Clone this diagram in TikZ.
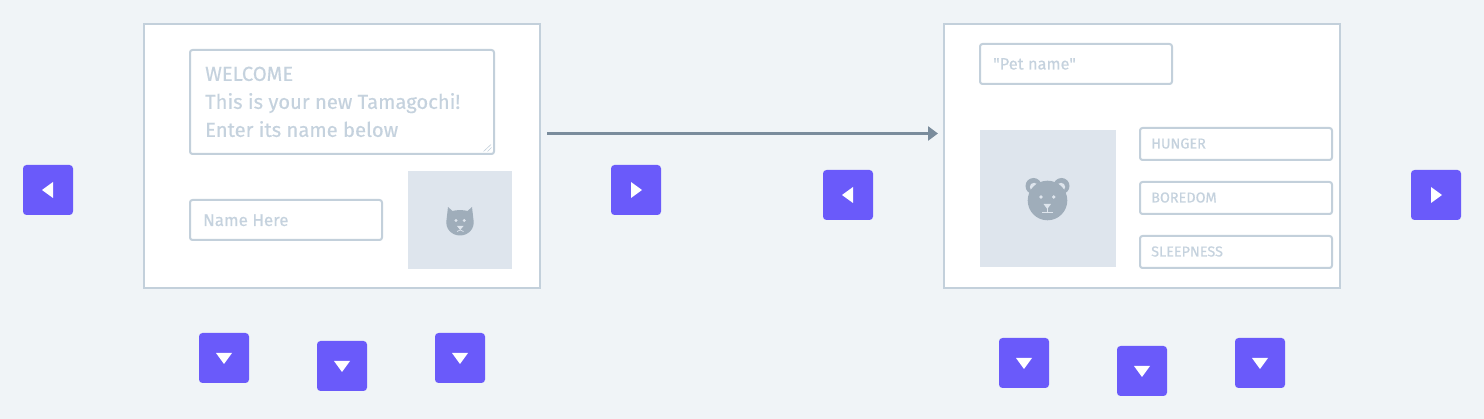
\documentclass[tikz,border=0pt]{standalone}
\usepackage{fontspec}
\setmainfont[FakeBold=0.35]{Fira Sans}
\newfontfamily\quotefont[FakeBold=0.35]{Fira Sans}
\usetikzlibrary{arrows.meta}
\definecolor{pagebg}{HTML}{F0F4F7}
\definecolor{framecol}{HTML}{C3D0DB}
\definecolor{hintcol}{HTML}{C5D2DE}
\definecolor{tilecol}{HTML}{DEE5ED}
\definecolor{petcol}{HTML}{9FADBA}
\definecolor{btncol}{HTML}{6A5AFA}
\definecolor{flowcol}{HTML}{7A8C9C}
\tikzset{%
  >={Triangle[length=10pt,width=14pt]}, % default arrow style
  screenbox/.style={draw=framecol,line width=2pt,fill=white,inner sep=0pt},
  fieldbox/.style={draw=framecol,line width=2pt,fill=white,rounded corners=2.5pt,inner sep=0pt},
  tilebox/.style={fill=tilecol,inner sep=0pt},
  hint/.style={text=hintcol,inner sep=0pt,anchor=base west},
  navbtn/.style={fill=btncol,rounded corners=3.5pt,inner sep=0pt,minimum size=50pt},
  flow/.style={->,draw=flowcol,line width=3.5pt}
}
\newcommand{\boxat}[6]{% style, name, x0, y0, x1, y1
  \node[#1,minimum width={(#5-#3)*1pt},minimum height={(#6-#4)*1pt}] (#2) at ({(#3+#5)/2},{(#4+#6)/2}) {};
}
\newcommand{\navbutton}[4]{% name, left, top, rotation
  \node[navbtn] (#1) at ({#2+25},{#3+25}) {};
  \fill[white,shift={(#1.center)},rotate=#4] (-5,-8) -- (-5,8) -- (6,0) -- cycle;
}
\begin{document}
\begin{tikzpicture}[x=1pt,y=-1pt]
  \useasboundingbox[fill=pagebg] (0,0) rectangle (1484,419);
  % left screen
  \boxat{screenbox}{welcomescreen}{144}{24}{540}{288}
  \boxat{fieldbox}{messagearea}{190}{50}{494}{154}
  \boxat{fieldbox}{namefield}{190}{200}{382}{240}
  \boxat{tilebox}{cattile}{408}{171}{512}{269}
  \node[hint,font=\fontsize{20.2}{28}\selectfont,align=left,anchor=north west] (messagetext) at (205,66.5)
    {WELCOME\\This is your new Tamagochi!\\Enter its name below};
  \node[hint,font=\fontsize{17}{20}\selectfont] (nametext) at (203,226) {Name Here};
  % resize grip
  \draw[framecol,line width=.6pt] (483.5,151.5) -- (491,144.5) (487.5,151.5) -- (491.5,147.5);
  % cat
  \fill[petcol] (448,207) -- (452.5,211) .. controls (456,209.8) and (464,209.8) .. (467.5,211)
    -- (472,207) -- (473.5,220) .. controls (475,229) and (468,235.5) .. (460,235.5)
    .. controls (452,235.5) and (445,229) .. (446.5,220) -- cycle;
  \fill[tilecol] (456,220.5) circle (1.6) (464.3,220.5) circle (1.6)
    (457,226) -- (463.5,226) -- (460.2,230) -- cycle;
  \draw[tilecol,line width=.7pt] (457,231.5) -- (460.2,230) -- (463.5,231.5);
  % flow
  \coordinate (flowstart) at (547,133.5);
  \coordinate (flowend) at (938,133.5);
  \draw[flow] (flowstart) -- (flowend);
  % right screen
  \boxat{screenbox}{statusscreen}{944}{24}{1340}{288}
  \boxat{fieldbox}{petfield}{980}{44}{1172}{84}
  \boxat{tilebox}{beartile}{980}{130}{1116}{267}
  \boxat{fieldbox}{hungerfield}{1140}{128}{1332}{160}
  \boxat{fieldbox}{boredomfield}{1140}{182}{1332}{214}
  \boxat{fieldbox}{sleepfield}{1140}{236}{1332}{268}
  \node[hint,font=\quotefont\fontsize{16.4}{20}\selectfont] (pettext) at (993,69.5) {"Pet name"};
  \node[hint,font=\fontsize{14.4}{16}\selectfont] (hungertext) at (1151,148.5) {HUNGER};
  \node[hint,font=\fontsize{14.4}{16}\selectfont] (boredomtext) at (1151,202.5) {BOREDOM};
  \node[hint,font=\fontsize{14.4}{16}\selectfont] (sleeptext) at (1151,256.5) {SLEEPNESS};
  % bear
  \fill[petcol] (1033.5,186) circle (8) (1061.5,186) circle (8);
  \fill[tilecol] (1034,187) circle (4.2) (1061,187) circle (4.2);
  \fill[petcol] (1047.5,200.5) circle (19.8);
  \fill[tilecol] (1041,197) circle (1.8) (1053.7,197) circle (1.8)
    (1043.5,204) -- (1051,204) -- (1047.3,209) -- cycle;
  \draw[tilecol,line width=1pt] (1047.3,208) -- (1047.3,212.3) (1042,212.3) -- (1052.5,212.3);
  % buttons
  \navbutton{backone}{23}{165}{180}
  \navbutton{nextone}{611}{165}{0}
  \navbutton{backtwo}{823}{170}{180}
  \navbutton{nexttwo}{1411}{170}{0}
  \navbutton{downa}{199}{333}{270}
  \navbutton{downb}{317}{341}{270}
  \navbutton{downc}{435}{333}{270}
  \navbutton{downd}{999}{338}{270}
  \navbutton{downe}{1117}{346}{270}
  \navbutton{downf}{1235}{338}{270}
\end{tikzpicture}
\end{document}
